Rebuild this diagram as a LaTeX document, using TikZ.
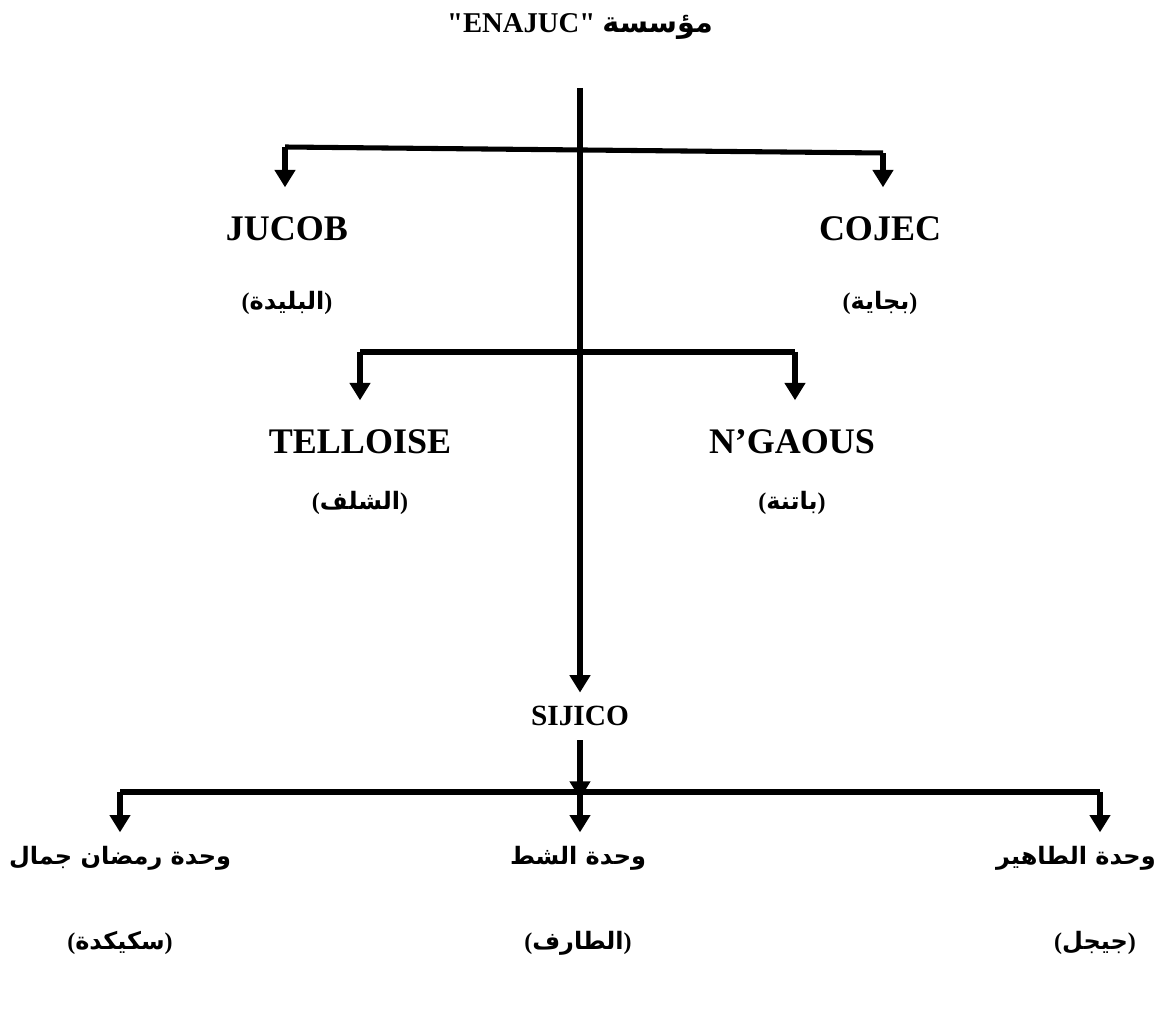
\documentclass[tikz,border=0pt]{standalone}
\usepackage{fontspec}
\setmainfont{Liberation Serif}
\newfontfamily\plainserif{Liberation Serif}
\newfontfamily\arabicfont[Script=Arabic]{DejaVu Sans}
\TeXXeTstate=1
\usetikzlibrary{arrows.meta}
\tikzset{
  conn/.style={line width=3.8pt, line cap=butt, line join=miter},
  arr/.style={conn, -{Triangle[width=15pt,length=13pt]}},
  lat/.style={font=\fontsize{27}{30}\selectfont\bfseries, inner sep=0pt},
  small lat/.style={font=\fontsize{22}{26}\selectfont\bfseries, inner sep=0pt},
  ar/.style={font=\fontsize{18}{22}\selectfont\bfseries, inner sep=0pt},
}
\newcommand{\AR}[1]{{\arabicfont\beginR #1\endR}}
\begin{document}
\begin{tikzpicture}[x=0.75pt,y=-0.75pt]
\useasboundingbox (0,0) rectangle (1158,1016);
% title
\node[font=\fontsize{21.5}{25}\selectfont\bfseries, inner sep=0pt] (title) at (580,27)
  {{\plainserif\bfseries\char34}ENAJUC{\plainserif\bfseries\char34} \AR{مؤسسة}};
% main spine
\coordinate (top) at (580,88);
\node[small lat] (sijico) at (580,716) {SIJICO};
% level 1
\coordinate (b1l) at (285,147);
\coordinate (b1r) at (883,153);
\node[lat] (jucob) at (287,229) {JUCOB};
\node[lat] (cojec) at (880,229) {COJEC};
\node[ar] (blida) at (287,303) {(\AR{البليدة})};
\node[ar] (bejaia) at (880,303) {(\AR{بجاية})};
% level 2
\coordinate (b2l) at (360,352);
\coordinate (b2r) at (795,352);
\node[lat] (tell) at (360,442) {TELLOISE};
\node[lat] (ngaous) at (792,442) {N’GAOUS};
\node[ar] (chlef) at (360,503) {(\AR{الشلف})};
\node[ar] (batna) at (792,503) {(\AR{باتنة})};
% level 3
\coordinate (s1) at (580,740);
\coordinate (b3m) at (580,792);
\coordinate (b3l) at (120,792);
\coordinate (b3r) at (1100,792);
\node[ar] (u1) at (120,858) {\AR{وحدة رمضان جمال}};
\node[ar] (u2) at (578,858) {\AR{وحدة الشط}};
\node[ar, anchor=east] (u3) at (1156,858) {\AR{وحدة الطاهير}};
\node[ar] (c1) at (120,943) {(\AR{سكيكدة})};
\node[ar] (c2) at (578,943) {(\AR{الطارف})};
\node[ar] (c3) at (1095,943) {(\AR{جيجل})};
% connectors
\draw[arr] (top) -- ([yshift=10pt]sijico.north);
\draw[arr] (b1l) -- ([yshift=22pt]jucob.north -| b1l);
\draw[conn] (b1l) -- (b1r);
\draw[arr] (b1r) -- ([yshift=22pt]cojec.north -| b1r);
\draw[conn] (b2l) -- (b2r);
\draw[arr] (b2l) -- ([yshift=22pt]tell.north -| b2l);
\draw[arr] (b2r) -- ([yshift=22pt]ngaous.north -| b2r);
\draw[arr] (s1) -- ([yshift=-5pt]b3m);
\draw[conn] (b3l) -- (b3r);
\draw[arr] (b3l) -- ([yshift=10pt]u1.north -| b3l);
\draw[arr] (b3m) -- ([yshift=10pt]u2.north -| b3m);
\draw[arr] (b3r) -- ([yshift=10pt]u3.north -| b3r);
\end{tikzpicture}
\end{document}
